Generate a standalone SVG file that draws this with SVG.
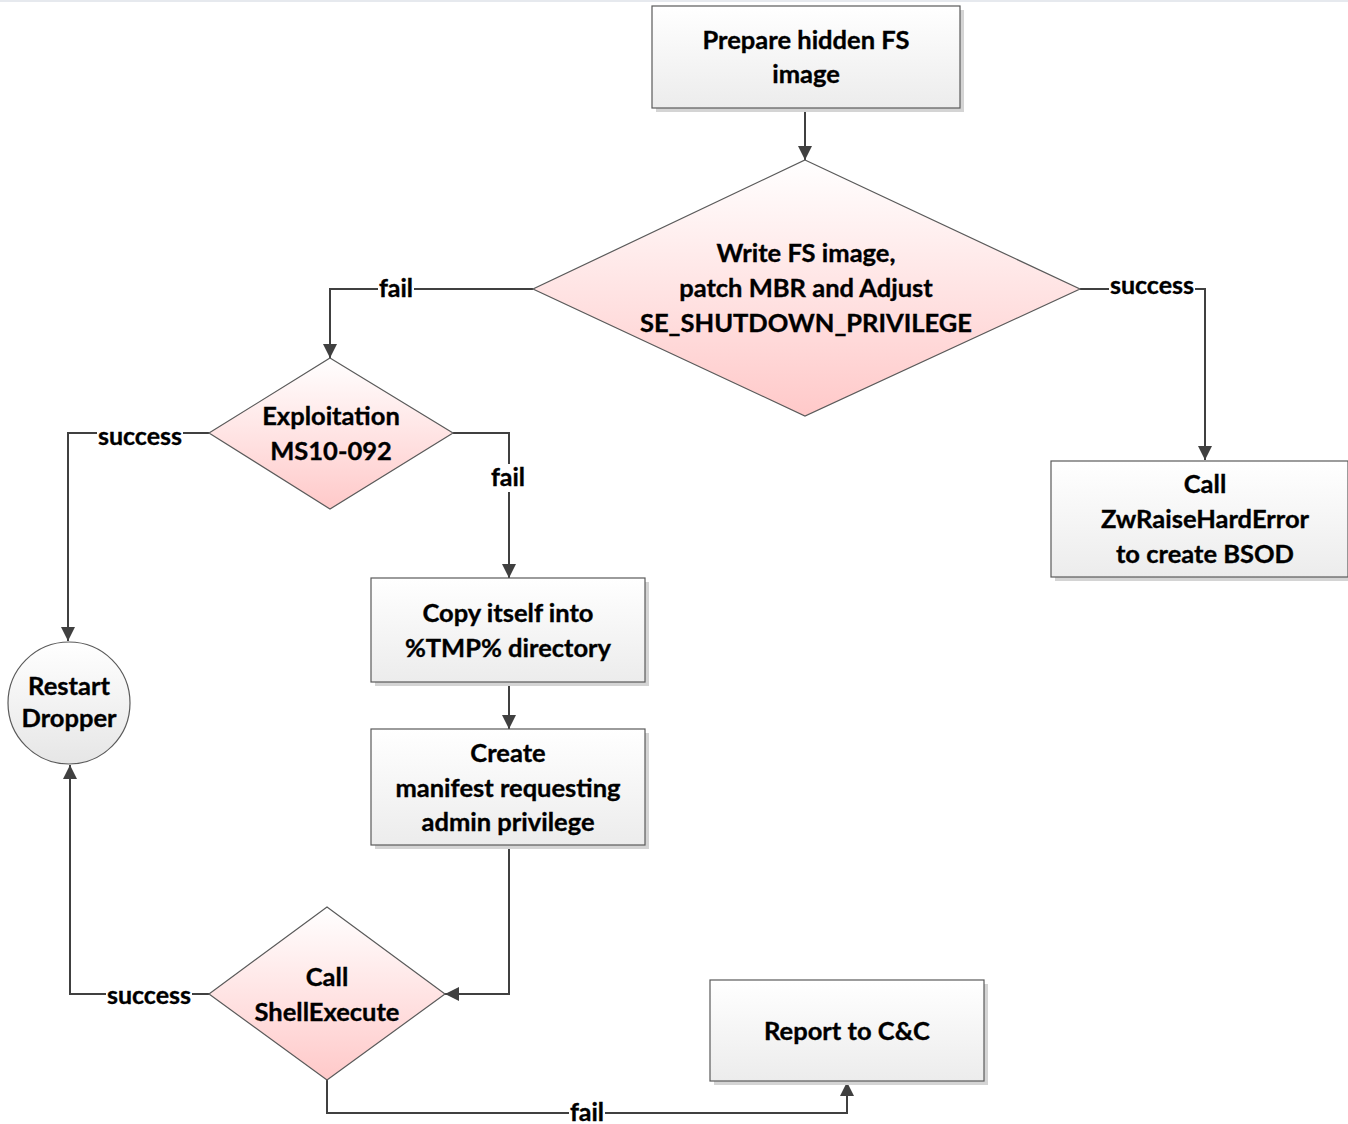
<svg xmlns="http://www.w3.org/2000/svg" width="1348" height="1124" viewBox="0 0 1348 1124">
  <defs>
    <linearGradient id="boxFill" x1="0" y1="0" x2="0" y2="1">
      <stop offset="0" stop-color="#ffffff"/>
      <stop offset="1" stop-color="#ececec"/>
    </linearGradient>
    <linearGradient id="decFill" x1="0" y1="0" x2="0" y2="1">
      <stop offset="0" stop-color="#ffffff"/>
      <stop offset="1" stop-color="#ffc9c9"/>
    </linearGradient>
    <linearGradient id="termFill" x1="0" y1="0" x2="0" y2="1">
      <stop offset="0" stop-color="#ffffff"/>
      <stop offset="1" stop-color="#e6e6e6"/>
    </linearGradient>
    <marker id="arrow" viewBox="0 0 14 14" refX="14" refY="7" markerWidth="14" markerHeight="14" markerUnits="userSpaceOnUse" orient="auto">
      <path d="M0,0 L14,7 L0,14 Z" fill="#404040"/>
    </marker>
  </defs>
  <style>
    .box { fill: url(#boxFill); stroke: #5a5a5a; stroke-width: 1.2; }
    .dec { fill: url(#decFill); stroke: #5a5a5a; stroke-width: 1.2; }
    .term { fill: url(#termFill); stroke: #5a5a5a; stroke-width: 1.2; }
    .shadow { fill: #d4d4d4; }
    .label { font-family: "Lato", "Liberation Sans", sans-serif; font-weight: bold; font-size: 25.5px; fill: #000; stroke: #000; stroke-width: 0.35; text-anchor: middle; }
    .edge { fill: none; stroke: #404040; stroke-width: 2; }
    .elabel { font-family: "Lato", "Liberation Sans", sans-serif; font-weight: bold; font-size: 25px; fill: #000; stroke: #000; stroke-width: 0.35; text-anchor: middle; }
    .lblbg { fill: #ffffff; }
  </style>

  <rect x="0" y="0" width="1348" height="1124" fill="#ffffff"/>
  <rect x="0" y="0" width="1348" height="2" fill="#e6e9ee"/>

  <!-- connectors -->
  <g id="connectors">
    <path class="edge" d="M805,108 V160" marker-end="url(#arrow)"/>
    <path class="edge" d="M533,289 H330 V358" marker-end="url(#arrow)"/>
    <path class="edge" d="M1080,289 H1205 V460" marker-end="url(#arrow)"/>
    <path class="edge" d="M209,433 H68 V641" marker-end="url(#arrow)"/>
    <path class="edge" d="M453,433 H509 V578" marker-end="url(#arrow)"/>
    <path class="edge" d="M509,682 V729" marker-end="url(#arrow)"/>
    <path class="edge" d="M509,845 V994 H445" marker-end="url(#arrow)"/>
    <path class="edge" d="M209,994 H70 V765" marker-end="url(#arrow)"/>
    <path class="edge" d="M327,1080 V1113 H847 V1082" marker-end="url(#arrow)"/>

    <rect class="lblbg" x="378" y="276" width="36" height="26"/>
    <text class="elabel" x="396" y="297">fail</text>
    <rect class="lblbg" x="1109" y="272" width="86" height="26"/>
    <text class="elabel" x="1152" y="294">success</text>
    <rect class="lblbg" x="97" y="424" width="86" height="26"/>
    <text class="elabel" x="140" y="445">success</text>
    <rect class="lblbg" x="490" y="464" width="38" height="28"/>
    <text class="elabel" x="508" y="486">fail</text>
    <rect class="lblbg" x="106" y="983" width="86" height="26"/>
    <text class="elabel" x="149" y="1004">success</text>
    <rect class="lblbg" x="569" y="1100" width="36" height="24"/>
    <text class="elabel" x="587" y="1121">fail</text>
  </g>

  <!-- nodes -->
  <g id="prepare">
    <rect class="shadow" x="656" y="10" width="308" height="102"/>
    <rect class="box" x="652" y="6" width="308" height="102"/>
    <text class="label" x="806" y="49">Prepare hidden FS</text>
    <text class="label" x="806" y="83">image</text>
  </g>

  <g id="write-fs">
    <polygon class="dec" points="805,160 1080,289 805,416 533,289"/>
    <text class="label" x="806" y="262">Write FS image,</text>
    <text class="label" x="806" y="297">patch MBR and Adjust</text>
    <text class="label" x="806" y="332">SE_SHUTDOWN_PRIVILEGE</text>
  </g>

  <g id="bsod">
    <rect class="shadow" x="1055" y="465" width="297" height="116"/>
    <rect class="box" x="1051" y="461" width="297" height="116"/>
    <text class="label" x="1205" y="493">Call</text>
    <text class="label" x="1205" y="528">ZwRaiseHardError</text>
    <text class="label" x="1205" y="563">to create BSOD</text>
  </g>

  <g id="exploit">
    <polygon class="dec" points="330,358 453,433 330,509 209,433"/>
    <text class="label" x="331" y="425">Exploitation</text>
    <text class="label" x="331" y="460">MS10-092</text>
  </g>

  <g id="copy">
    <rect class="shadow" x="375" y="582" width="274" height="104"/>
    <rect class="box" x="371" y="578" width="274" height="104"/>
    <text class="label" x="508" y="622">Copy itself into</text>
    <text class="label" x="508" y="657">%TMP% directory</text>
  </g>

  <g id="manifest">
    <rect class="shadow" x="375" y="733" width="274" height="116"/>
    <rect class="box" x="371" y="729" width="274" height="116"/>
    <text class="label" x="508" y="762">Create</text>
    <text class="label" x="508" y="797">manifest requesting</text>
    <text class="label" x="508" y="831">admin privilege</text>
  </g>

  <g id="shellexec">
    <polygon class="dec" points="327,907 445,994 327,1080 209,994"/>
    <text class="label" x="327" y="986">Call</text>
    <text class="label" x="327" y="1021">ShellExecute</text>
  </g>

  <g id="restart">
    <circle class="term" cx="69" cy="703" r="61"/>
    <text class="label" x="69" y="695">Restart</text>
    <text class="label" x="69" y="727">Dropper</text>
  </g>

  <g id="report">
    <rect class="shadow" x="714" y="984" width="274" height="101"/>
    <rect class="box" x="710" y="980" width="274" height="101"/>
    <text class="label" x="847" y="1040">Report to C&amp;C</text>
  </g>
</svg>
